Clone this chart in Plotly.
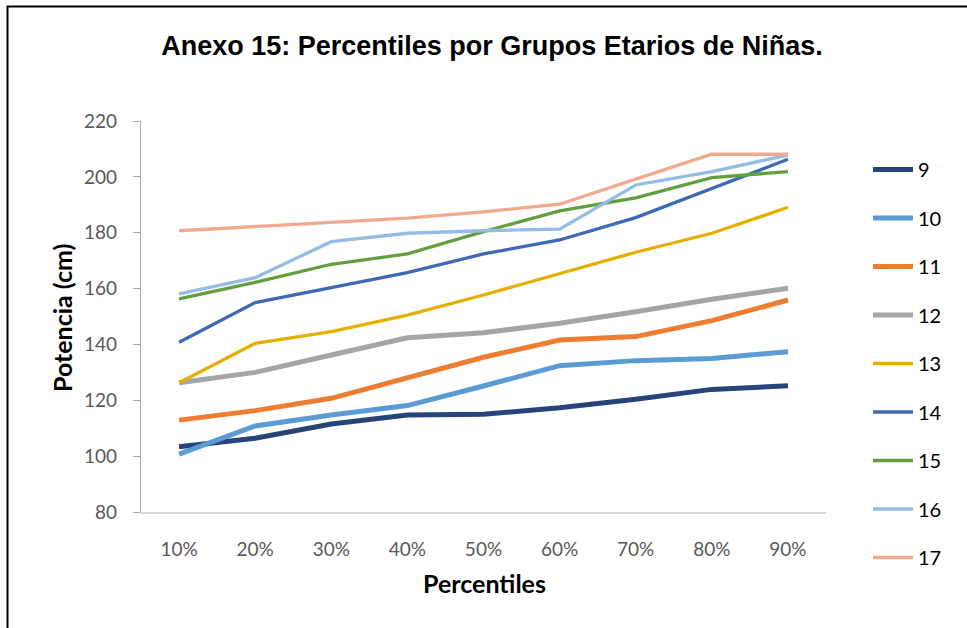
import plotly.graph_objects as go

# Percentile categories on the x axis
percentiles = ["10%", "20%", "30%", "40%", "50%", "60%", "70%", "80%", "90%"]

# Power (cm) per age group, one list per group
edad_9 = [103.4, 106.4, 111.5, 114.7, 115.0, 117.3, 120.4, 123.9, 125.2]
edad_10 = [100.7, 110.8, 114.7, 118.1, 125.1, 132.4, 134.2, 135.0, 137.4]
edad_11 = [112.9, 116.3, 120.7, 127.9, 135.4, 141.6, 142.8, 148.5, 155.9]
edad_12 = [126.3, 130.0, 136.2, 142.4, 144.2, 147.6, 151.7, 156.2, 160.1]
edad_13 = [126.3, 140.4, 144.6, 150.5, 157.7, 165.5, 173.0, 179.8, 189.1]
edad_14 = [140.8, 155.0, 160.3, 165.7, 172.4, 177.4, 185.4, 195.9, 206.3]
edad_15 = [156.3, 162.2, 168.7, 172.4, 180.4, 187.8, 192.5, 199.7, 201.9]
edad_16 = [158.1, 163.9, 176.8, 179.8, 180.7, 181.3, 197.1, 201.9, 207.8]
edad_17 = [180.7, 182.2, 183.6, 185.2, 187.5, 190.2, 199.2, 208.1, 208.1]

grupos = ["9", "10", "11", "12", "13", "14", "15", "16", "17"]
series = [edad_9, edad_10, edad_11, edad_12, edad_13, edad_14, edad_15, edad_16, edad_17]
colores = ["#264478", "#5B9BD5", "#ED7D31", "#A5A5A5", "#E5AE00",
           "#3F68B5", "#62A03F", "#95BCE4", "#F2AA8E"]
grosores = [5, 5, 5, 5, 3.3, 3.3, 3.3, 3.3, 3.3]

fig = go.Figure()
for nombre, valores, color, ancho in zip(grupos, series, colores, grosores):
    fig.add_trace(go.Scatter(
        x=percentiles, y=valores, name=nombre, mode="lines",
        legendgroup=nombre,
        line=dict(color=color, width=ancho),
    ))

W, H = 967, 628
L, R, T, B = 141, 141, 121, 116
PW, PH = W - L - R, H - T - B

fig.update_layout(
    width=W, height=H,
    margin=dict(l=L, r=R, t=T, b=B),
    paper_bgcolor="white", plot_bgcolor="white",
    font=dict(family="Lato, 'Open Sans', sans-serif", color="#595959"),
    title=dict(
        text="<b>Anexo 15: Percentiles por Grupos Etarios de Niñas.</b>",
        font=dict(family="Liberation Sans, Arial, sans-serif", size=27, color="black"),
        x=492 / W, xanchor="center", xref="container",
        y=1 - 46 / H, yanchor="middle", yref="container",
    ),
    xaxis=dict(
        type="category", range=[-0.5, 8.5],
        showline=True, linecolor="#D9D9D9", linewidth=1.5,
        ticks="", showgrid=False, zeroline=False,
        tickfont=dict(size=19, color="#595959"),
        ticklabelstandoff=19,
    ),
    yaxis=dict(
        range=[80, 220], tickvals=[80, 100, 120, 140, 160, 180, 200, 220],
        showline=True, linecolor="#A6A6A6", linewidth=1.3,
        ticks="outside", ticklen=7, tickcolor="#A6A6A6", tickwidth=1.3,
        showgrid=False, zeroline=False,
        tickfont=dict(size=19, color="#595959"),
        ticklabelstandoff=12,
    ),
    legend=dict(
        x=(868 - L) / PW, xanchor="left",
        y=(H - B - 150) / PH, yanchor="top",
        maxheight=520,
        font=dict(size=20, color="black"),
        tracegroupgap=19.5, itemwidth=40,
        bgcolor="rgba(0,0,0,0)",
    ),
    showlegend=True,
)

# Axis titles
fig.add_annotation(
    text="<b>Potencia (cm)</b>", textangle=-90,
    xref="paper", yref="paper",
    x=(62 - L) / PW, y=(H - B - 318) / PH,
    xanchor="center", yanchor="middle", showarrow=False,
    font=dict(size=25, color="black"),
)
fig.add_annotation(
    text="<b>Percentiles</b>",
    xref="paper", yref="paper",
    x=(484 - L) / PW, y=(H - B - 583) / PH,
    xanchor="center", yanchor="middle", showarrow=False,
    font=dict(size=25, color="black"),
)

# Chart frame (left and top edges fall inside the page)
fig.add_shape(
    type="rect", xref="paper", yref="paper",
    x0=(7.5 - L) / PW, x1=(W + 20 - L) / PW,
    y0=(H - B - (H + 20)) / PH, y1=(H - B - 6.5) / PH,
    line=dict(color="black", width=2), fillcolor="rgba(0,0,0,0)",
    layer="above",
)

fig.write_html("out.html")
